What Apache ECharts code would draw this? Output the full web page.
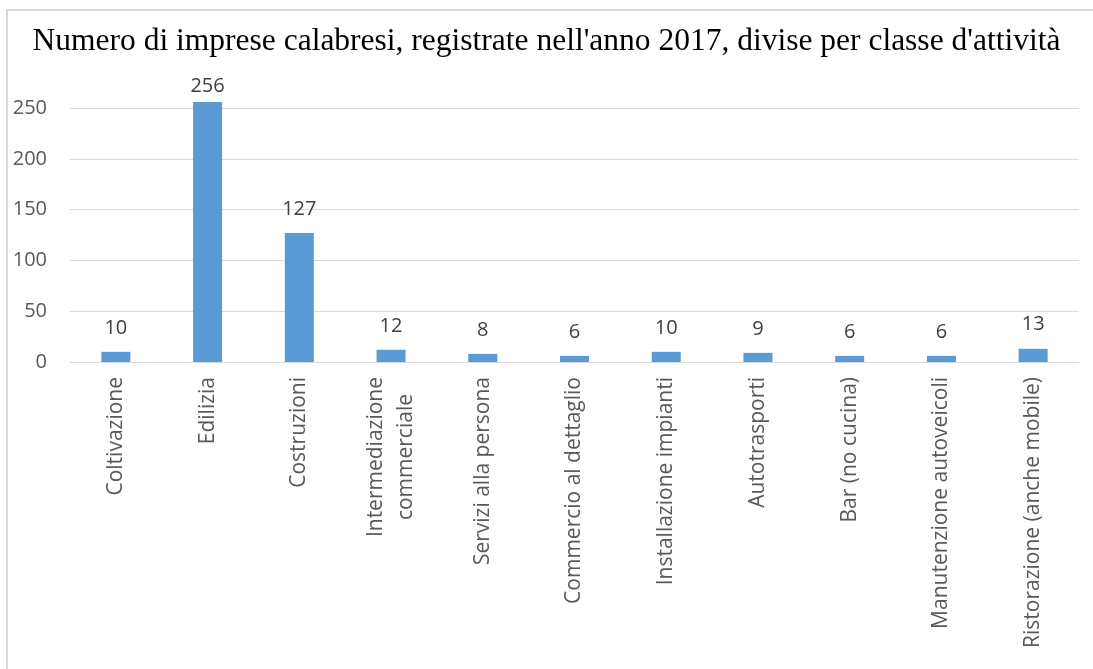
<!DOCTYPE html>
<html>
<head>
<meta charset="utf-8">
<script src="https://cdn.jsdelivr.net/npm/echarts@6/dist/echarts.min.js"></script>
<style>
  html, body { margin: 0; padding: 0; background: #fff; }
  #chart { width: 1093px; height: 669px; }
</style>
</head>
<body>
<div id="chart"></div>
<script>
var categories = [
  'Coltivazione',
  'Edilizia',
  'Costruzioni',
  'Intermediazione\ncommerciale',
  'Servizi alla persona',
  'Commercio al dettaglio',
  'Installazione impianti',
  'Autotrasporti',
  'Bar (no cucina)',
  'Manutenzione autoveicoli',
  'Ristorazione (anche mobile)'
]
var imprese = [10, 256, 127, 12, 8, 6, 10, 9, 6, 6, 13]
var yTicks = { min: 0, max: 250, step: 50 }

var sans = '"Open Sans", "Noto Sans", sans-serif'

var chart = echarts.init(document.getElementById('chart'))
chart.setOption({
  backgroundColor: '#ffffff',
  animation: false,
  title: {
    text: 'Numero di imprese calabresi, registrate nell\'anno 2017, divise per classe d\'attività',
    left: 'center',
    top: 21,
    textStyle: {
      fontFamily: '"Liberation Serif", "DejaVu Serif", serif',
      fontWeight: 'normal',
      fontSize: 31.5,
      color: '#000000'
    }
  },
  graphic: [{
    type: 'rect',
    shape: { x: 7, y: 10, width: 1200, height: 800 },
    style: { fill: 'none', stroke: '#d9d9d9', lineWidth: 2 },
    silent: true
  }],
  grid: {
    left: 70,
    right: 14,
    top: 108,
    bottom: 307
  },
  xAxis: {
    type: 'category',
    data: categories,
    axisLine: { show: false },
    axisTick: { show: false },
    axisLabel: {
      interval: 0,
      rotate: 90,
      margin: 15,
      formatter: function (v) {
        return v.split('\n').map(function (s) { return '{c|' + s + '}' }).join('\n')
      },
      rich: {
        c: {
          align: 'center',
          fontFamily: sans,
          fontSize: 21,
          color: '#595959',
          lineHeight: 30
        }
      }
    }
  },
  yAxis: {
    type: 'value',
    min: yTicks.min,
    max: yTicks.max,
    interval: yTicks.step,
    axisLine: { show: false },
    axisTick: { show: false },
    axisLabel: {
      margin: 23,
      fontFamily: sans,
      fontSize: 20,
      color: '#595959'
    },
    splitLine: {
      lineStyle: { color: '#d9d9d9', width: 1 }
    }
  },
  series: [{
    name: 'Imprese',
    type: 'bar',
    clip: false,
    barWidth: 29,
    itemStyle: { color: '#5b9bd5' },
    label: {
      show: true,
      position: 'top',
      distance: 14,
      fontFamily: sans,
      fontSize: 20,
      color: '#404040'
    },
    data: imprese.map(function (v, i) {
      // the tallest label sits closer to its bar, as in the original
      return i === 1 ? { value: v, label: { distance: 6 } } : v
    })
  }]
})
</script>
</body>
</html>
